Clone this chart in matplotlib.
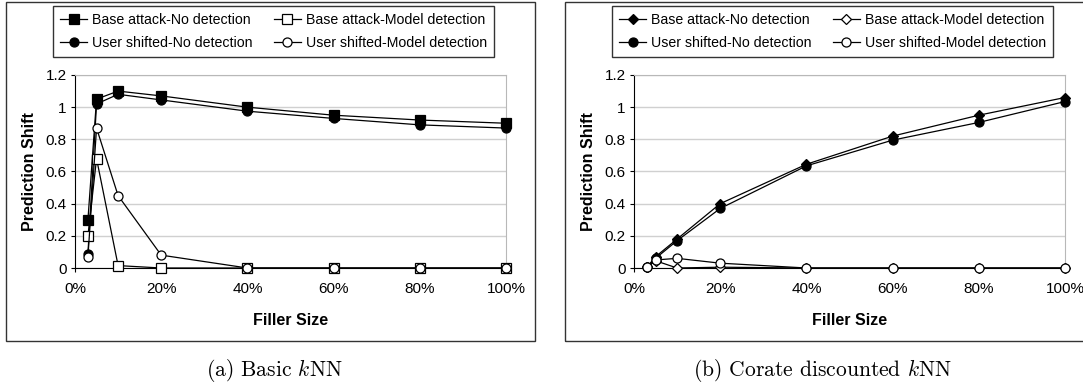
import matplotlib
matplotlib.use('Agg')
import matplotlib.pyplot as plt
from matplotlib.patches import Rectangle

# filler sizes (fraction)
filler = [0.03, 0.05, 0.10, 0.20, 0.40, 0.60, 0.80, 1.00]

# (a) basic kNN
a_base_nodet = [0.30, 1.05, 1.10, 1.07, 1.00, 0.95, 0.92, 0.90]
a_user_nodet = [0.09, 1.02, 1.08, 1.045, 0.975, 0.93, 0.89, 0.87]
a_base_model = [0.20, 0.68, 0.015, 0.0, 0.0, 0.0, 0.0, 0.0]
a_user_model = [0.07, 0.87, 0.45, 0.08, 0.0, 0.0, 0.0, 0.0]

# (b) corate discounted kNN
b_base_nodet = [0.005, 0.07, 0.18, 0.40, 0.645, 0.82, 0.95, 1.06]
b_user_nodet = [0.005, 0.06, 0.17, 0.37, 0.635, 0.795, 0.905, 1.035]
b_base_model = [0.005, 0.045, 0.0, 0.005, 0.0, 0.0, 0.0, 0.0]
b_user_model = [0.005, 0.05, 0.06, 0.03, 0.0, 0.0, 0.0, 0.0]

labels = ['Base attack-No detection', 'User shifted-No detection',
          'Base attack-Model detection', 'User shifted-Model detection']
xticks = [0, 0.2, 0.4, 0.6, 0.8, 1.0]
yticks = [0, 0.2, 0.4, 0.6, 0.8, 1.0, 1.2]

plt.rcParams['font.family'] = ['Liberation Sans', 'DejaVu Sans']
plt.rcParams['mathtext.fontset'] = 'cm'

W, H = 1083, 387
fig = plt.figure(figsize=(W / 100, H / 100), dpi=100)


def panel(left, series, mk_base, ms_base):
    ax = fig.add_axes([left / W, 1 - 268 / H, 431 / W, 193 / H])
    styles = [
        dict(marker=mk_base, mfc='black', ms=ms_base),
        dict(marker='o', mfc='black', ms=6.5),
        dict(marker=mk_base, mfc='white', ms=ms_base),
        dict(marker='o', mfc='white', ms=6.5),
    ]
    handles = []
    for vals, st, lab in zip(series, styles, labels):
        h, = ax.plot(filler, vals, color='black', lw=0.9, mec='black',
                     mew=0.9, label=lab, clip_on=False, zorder=3, **st)
        handles.append(h)
    ax.set_xlim(0, 1)
    ax.set_ylim(0, 1.2)
    ax.set_xticks(xticks)
    ax.set_xticklabels(['%d%%' % round(t * 100) for t in xticks])
    ax.set_yticks(yticks)
    ax.set_yticklabels(['%g' % t for t in yticks])
    ax.yaxis.grid(True, color='#d0d0d0', lw=1)
    ax.set_axisbelow(True)
    for s in ['top', 'right']:
        ax.spines[s].set_color('#b8b8b8')
    for s in ['left', 'bottom']:
        ax.spines[s].set_color('black')
    ax.tick_params(labelsize=11, length=3, width=0.8, direction='out',
                   colors='black', pad=3)
    ax.tick_params(axis='x', pad=7)
    ax.set_xlabel('Filler Size', fontsize=11.5, fontweight='bold', labelpad=12)
    ax.set_ylabel('Prediction Shift', fontsize=11.5, fontweight='bold', labelpad=6)
    return ax, handles


ax1, h1 = panel(75, [a_base_nodet, a_user_nodet, a_base_model, a_user_model], 's', 7)
ax2, h2 = panel(634, [b_base_nodet, b_user_nodet, b_base_model, b_user_model], 'D', 5)

for hs, x0 in [(h1, 53), (h2, 612)]:
    leg = fig.legend(handles=hs, loc='upper left', bbox_to_anchor=(x0 / W, 1 - 6 / H),
                     ncol=2, fontsize=10.2, frameon=True, fancybox=False,
                     edgecolor='black', borderpad=0.5, handlelength=1.9,
                     handletextpad=0.35, columnspacing=1.5, labelspacing=0.6,
                     borderaxespad=0)
    leg.get_frame().set_linewidth(1.0)

# outer frames around each panel
fig.patches.append(Rectangle((6 / W, 1 - 341 / H), 529 / W, 339 / H,
                             transform=fig.transFigure, fill=False, ec='#333333', lw=1))
fig.patches.append(Rectangle((565 / W, 1 - 341 / H), 530 / W, 339 / H,
                             transform=fig.transFigure, fill=False, ec='#333333', lw=1))

fig.text(274 / W, 1 - 370 / H, '(a) Basic $k$NN', ha='center', va='center',
         fontsize=15.5, family='cmr10')
fig.text(822 / W, 1 - 370 / H, '(b) Corate discounted $k$NN', ha='center', va='center',
         fontsize=15.5, family='cmr10')

fig.savefig('out.png', dpi=100)
